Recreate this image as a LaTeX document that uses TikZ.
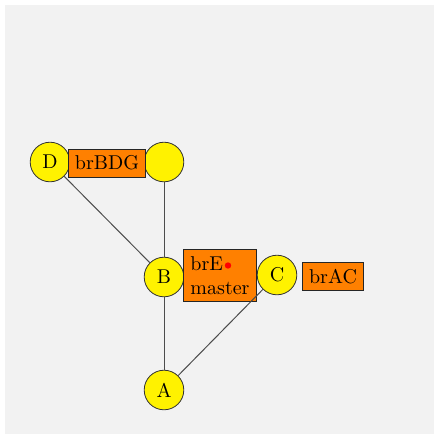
\documentclass[tikz,border=0pt]{standalone}
\definecolor{nodeyellow}{RGB}{255,242,0}
\definecolor{brorange}{RGB}{255,128,0}
\definecolor{bggray}{RGB}{242,242,242}
\begin{document}
\begin{tikzpicture}[x=0.5pt,y=-0.5pt,
  vert/.style={circle,draw=black!80,fill=nodeyellow,minimum size=19.8pt,inner sep=0pt},
  br/.style={rectangle,draw=black!85,fill=brorange},
  edge/.style={draw=black!70,line width=0.5pt}]
\useasboundingbox (0,0) rectangle (434,434);
\fill[bggray] (5,5) rectangle (434,434);
\node[vert] (D) at (50,162) {D};
\node[vert] (E) at (164,162) {};
\node[vert] (B) at (164,277) {B};
\node[vert] (C) at (277,275) {C};
\node[vert] (A) at (164,390) {A};
\node[br] (brBDG) at (107,163) {brBDG};
\node[br,align=left] (brE) at (220,275.5) {brE\\master};
\node[circle,fill=red,inner sep=0pt,minimum size=3.2pt] (dot) at (228,265.5) {};
\node[br] (brAC) at (333,276.5) {brAC};
\draw[edge] (D) -- (B);
\draw[edge] (E) -- (B);
\draw[edge] (B) -- (A);
\draw[edge] (C) -- (A);
\end{tikzpicture}
\end{document}
